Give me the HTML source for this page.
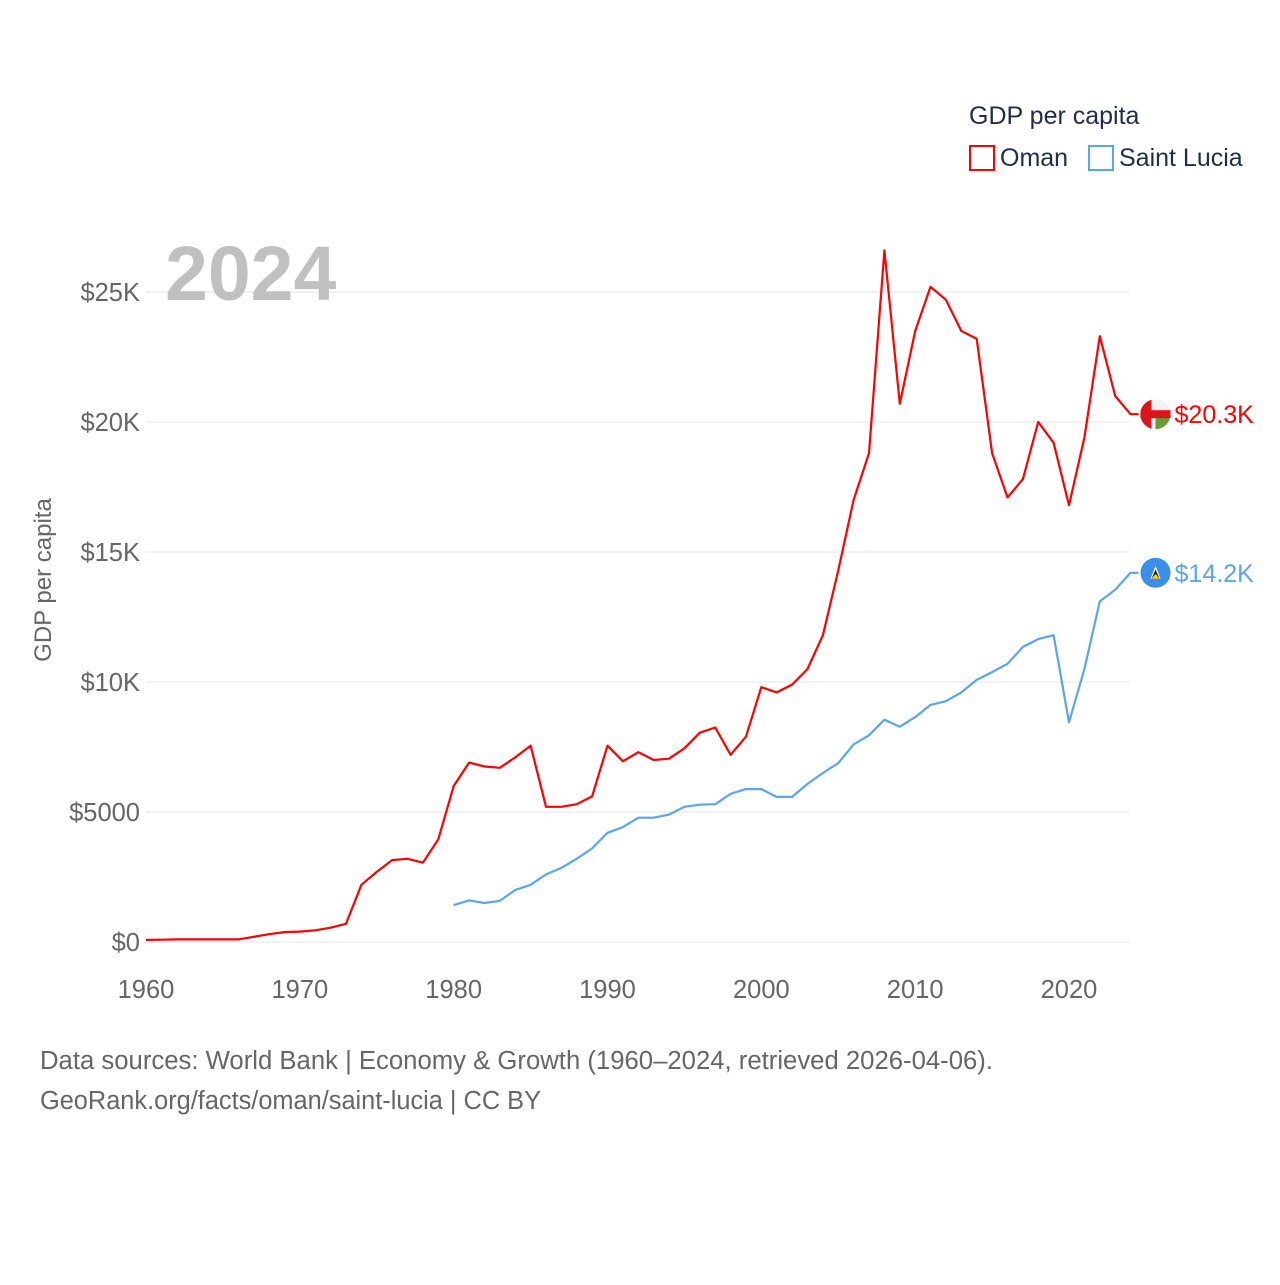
<!DOCTYPE html>
<html><head><meta charset="utf-8">
<style>
body{margin:0;background:#fff;font-family:"Liberation Sans",sans-serif;}
svg text{font-family:"Liberation Sans",sans-serif;}
</style></head>
<body>
<svg id="chart" width="1280" height="1280" viewBox="0 0 1280 1280" xmlns="http://www.w3.org/2000/svg">
<rect width="1280" height="1280" fill="#fff"/>
<g id="grid"></g>
<g id="axes"></g>
<text x="165" y="300" font-size="77" font-weight="bold" fill="#c0c0c0">2024</text>
<text transform="translate(51,580) rotate(-90)" text-anchor="middle" font-size="24" fill="#666">GDP per capita</text>
<g id="series"></g>
<g>
<text x="969" y="124" font-size="25" fill="#1f2d4a">GDP per capita</text>
<g><rect x="970" y="146" width="24" height="24" fill="none" stroke="#ff0000" stroke-width="2"/><text x="1000" y="166" font-size="25" fill="#1f2d4a">Oman</text></g>
<g><rect x="1089" y="146" width="24" height="24" fill="none" stroke="#5aa5f0" stroke-width="2"/><text x="1119" y="166" font-size="25" fill="#1f2d4a">Saint Lucia</text></g>
</g>
<text x="40" y="1069" font-size="25.5" fill="#666" textLength="953" lengthAdjust="spacingAndGlyphs">Data sources: World Bank | Economy &amp; Growth (1960–2024, retrieved 2026-04-06).</text>
<text x="40" y="1109" font-size="25.5" fill="#666" textLength="501" lengthAdjust="spacingAndGlyphs">GeoRank.org/facts/oman/saint-lucia | CC BY</text>
</svg>
<script>
const omanStart = 1960;
const omanValues = [0.08,0.09,0.1,0.1,0.1,0.1,0.1,0.2,0.3,0.38,0.4,0.45,0.55,0.7,2.2,2.7,3.15,3.2,3.05,3.95,6.0,6.9,6.75,6.7,7.1,7.55,5.2,5.2,5.3,5.6,7.55,6.95,7.3,7.0,7.05,7.45,8.05,8.25,7.2,7.9,9.8,9.6,9.9,10.5,11.8,14.3,17.0,18.8,26.6,20.7,23.5,25.2,24.7,23.5,23.2,18.8,17.1,17.8,20.0,19.2,16.8,19.4,23.3,21.0,20.3];
const luciaStart = 1980;
const luciaValues = [1.42,1.6,1.5,1.58,2.0,2.2,2.6,2.85,3.2,3.6,4.2,4.42,4.78,4.78,4.9,5.2,5.28,5.3,5.7,5.88,5.88,5.58,5.58,6.08,6.5,6.88,7.6,7.95,8.55,8.28,8.65,9.12,9.26,9.6,10.08,10.38,10.7,11.35,11.65,11.8,8.45,10.5,13.1,13.55,14.2];
const yTicks = [0,5,10,15,20,25];
const yTickLabels = ["$0","$5000","$10K","$15K","$20K","$25K"];
const xTicks = [1960,1970,1980,1990,2000,2010,2020];
const endLabels = ["$20.3K","$14.2K"];

const NS="http://www.w3.org/2000/svg";
const x = yr => 146 + (yr-1960)*(1069-146)/60;
const y = v => 942 - v*26;
function mk(tag, attrs, parent){const e=document.createElementNS(NS,tag);for(const k in attrs)e.setAttribute(k,attrs[k]);parent.appendChild(e);return e;}
const grid=document.getElementById('grid'), axes=document.getElementById('axes'), series=document.getElementById('series');
yTicks.forEach((t,i)=>{
  const l=mk('line',{x1:146,x2:1130,y1:y(t),y2:y(t),stroke:'#e6e6e6','stroke-width':1},grid);
  
  
  const tx=mk('text',{x:140,y:y(t)+9,'text-anchor':'end','font-size':25.5,fill:'#666'},axes);
  tx.textContent=yTickLabels[i];
  
  
});
xTicks.forEach(t=>{
  const tx=mk('text',{x:x(t),y:998,'text-anchor':'middle','font-size':25.5,fill:'#666'},axes);
  tx.textContent=t;
  
  
});
function drawSeries(start, vals, color, name, label, flag){
  const lastX=x(start+vals.length-1), lastY=y(vals[vals.length-1]);
  const d=vals.map((v,i)=>(i?'L':'M')+x(start+i).toFixed(1)+','+y(v).toFixed(1)).join('')+'L'+(lastX+8).toFixed(1)+','+lastY.toFixed(1);
  const p=mk('path',{d:d,fill:'none',stroke:color,'stroke-width':2.2,'stroke-linejoin':'round'},series);
  
  
  const g=mk('g',{},series);
  
  
  flag(g,lastX+25,lastY);
  const t=mk('text',{x:lastX+44,y:lastY+9,'font-size':25,fill:color},series);
  t.textContent=label;
  
  
}
drawSeries(omanStart,omanValues,'#ff0000','oman',endLabels[0],(g,cx,cy)=>{
  mk('circle',{cx:cx,cy:cy,r:15,fill:'#f2f2f2'},g);
  mk('path',{d:`M${cx},${cy}L${cx+15},${cy}A15,15 0 0 1 ${cx},${cy+15}Z`,fill:'#6a9b3a'},g);
  mk('rect',{x:cx-15,y:cy-4,width:30,height:8,fill:'#db161b'},g);
  mk('path',{d:`M${cx-4},${cy-14.5}A15,15 0 0 0 ${cx-4},${cy+14.5}Z`,fill:'#db161b'},g);
});
drawSeries(luciaStart,luciaValues,'#5aa5f0','saint-lucia',endLabels[1],(g,cx,cy)=>{
  mk('circle',{cx:cx,cy:cy,r:15,fill:'#3a8fe8'},g);
  mk('path',{d:`M${cx},${cy-7}L${cx+5},${cy+6}L${cx-5},${cy+6}Z`,fill:'#fff'},g);
  mk('path',{d:`M${cx},${cy-3}L${cx+4},${cy+6}L${cx-4},${cy+6}Z`,fill:'#000'},g);
  mk('path',{d:`M${cx},${cy+1}L${cx+4},${cy+6}L${cx-4},${cy+6}Z`,fill:'#fcd116'},g);
});
</script>
</body></html>
